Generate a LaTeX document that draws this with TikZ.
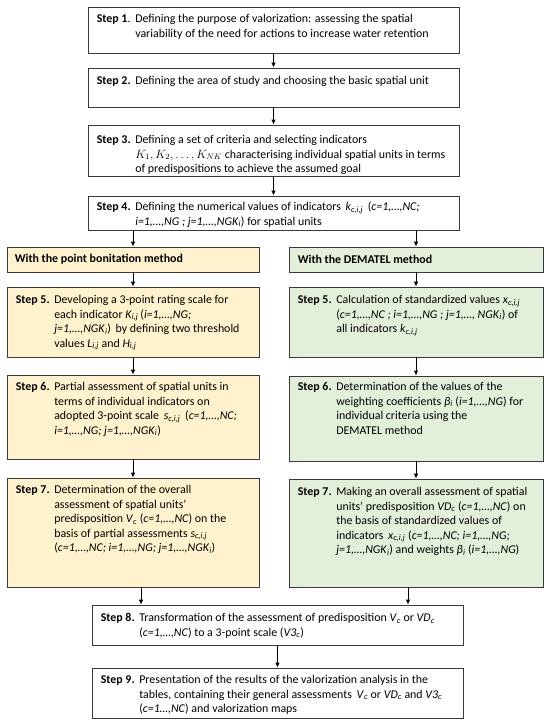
\documentclass[tikz,border=0pt]{standalone}
\usepackage{fontspec}
\setmainfont{Carlito}
\usetikzlibrary{arrows.meta}
\definecolor{yel}{HTML}{FFF2CC}
\definecolor{grn}{HTML}{E2EFD9}
\definecolor{edge}{HTML}{3A3A3A}
\newcommand\iv[2]{\textit{#1}\textsubscript{\textit{#2}}}
\newcommand\stp[2]{\makebox[38.5pt][l]{\textbf{#1}}\begin{tabular}[t]{@{}l@{}}#2\end{tabular}}
\tikzset{
  box/.style={draw=edge, line width=0.8pt, inner sep=0pt, fill=white},
  ybox/.style={box, fill=yel},
  gbox/.style={box, fill=grn},
  txt/.style={inner sep=0pt, font=\fontsize{11.9}{14.5}\selectfont, align=left},
  arr/.style={draw=black, line width=0.8pt, -{Latex[length=5pt,width=4.5pt]}}
}
\begin{document}
\begin{tikzpicture}[x=1pt,y=-1pt]
\useasboundingbox (0,0) rectangle (550,723);
% boxes
\node[box, minimum width=371pt, minimum height=46pt] (s1) at (273.5,30) {};
\node[box, minimum width=371pt, minimum height=39pt] (s2) at (273.5,87.5) {};
\node[box, minimum width=371pt, minimum height=51pt] (s3) at (273.5,150.5) {};
\node[box, minimum width=371pt, minimum height=34pt] (s4) at (273.5,213) {};
\node[ybox, minimum width=252pt, minimum height=25pt] (hl) at (133,259.5) {};
\node[gbox, minimum width=254pt, minimum height=25pt] (hr) at (416,259.5) {};
\node[ybox, minimum width=252pt, minimum height=70pt] (l5) at (133,322) {};
\node[gbox, minimum width=254pt, minimum height=70pt] (r5) at (416,322) {};
\node[ybox, minimum width=252pt, minimum height=84pt] (l6) at (133,417) {};
\node[gbox, minimum width=254pt, minimum height=85pt] (r6) at (416,418.5) {};
\node[ybox, minimum width=252pt, minimum height=109pt] (l7) at (133,532.5) {};
\node[gbox, minimum width=254pt, minimum height=108pt] (r7) at (416,533) {};
\node[box, minimum width=371pt, minimum height=40pt] (s8) at (277.5,625) {};
\node[box, minimum width=371pt, minimum height=50pt] (s9) at (277.5,693) {};
% texts
\node[txt, anchor=base west] (t1) at ([shift={(9,16)}]s1.north west)
  {\stp{Step 1\textmd{.}}{Defining the purpose of valorization: assessing the spatial\\variability of the need for actions to increase water retention}};
\node[txt, anchor=base west] (t2) at ([shift={(9,17)}]s2.north west)
  {\stp{Step 2.}{Defining the area of study and choosing the basic spatial unit}};
\node[txt, anchor=base west] (t3) at ([shift={(9,19)}]s3.north west)
  {\stp{Step 3.}{Defining a set of criteria and selecting indicators\\$K_1, K_2, \ldots, K_{NK}$ characterising individual spatial units in terms\\of predispositions to achieve the assumed goal}};
\node[txt, anchor=base west] (t4) at ([shift={(9,15)}]s4.north west)
  {\stp{Step 4.}{Defining the numerical values of indicators\, \iv{k}{c,i,j}\, (\textit{c=1,…,NC;}\\\textit{i=1,…,NG ; j=1,…,NGK}\textsubscript{\textit{i}}) for spatial units}};
\node[txt, anchor=west, font=\fontsize{11.9}{14.5}\selectfont\bfseries] (th1) at ([xshift=8]hl.west) {With the point bonitation method};
\node[txt, anchor=west, font=\fontsize{11.9}{14.5}\selectfont\bfseries] (th2) at ([xshift=9]hr.west) {With the DEMATEL method};
\node[txt, anchor=base west] (tl5) at ([shift={(9,17)}]l5.north west)
  {\stp{Step 5.}{Developing a 3-point rating scale for\\each indicator \iv{K}{i,j}\,(\textit{i=1,…,NG;}\\\textit{j=1,…,NGK}\textsubscript{\textit{i}})\, by defining two threshold\\values \iv{L}{i,j} and \iv{H}{i,j}}};
\node[txt, anchor=base west] (tl6) at ([shift={(9,16)}]l6.north west)
  {\stp{Step 6.}{Partial assessment of spatial units in\\terms of individual indicators on\\adopted 3-point scale\, \iv{s}{c,i,j}\, (\textit{c=1,…,NC;}\\\textit{i=1,…,NG; j=1,…,NGK}\textsubscript{\textit{i}})}};
\node[txt, anchor=base west] (tl7) at ([shift={(9,16)}]l7.north west)
  {\stp{Step 7.}{Determination of the overall\\assessment of spatial units’\\predisposition \iv{V}{c} (\textit{c=1,…,NC}) on the\\basis of partial assessments \iv{s}{c,i,j}\\(\textit{c=1,…,NC; i=1,…,NG; j=1,…,NGK}\textsubscript{\textit{i}})}};
\node[txt, anchor=base west] (tr5) at ([shift={(9,17)}]r5.north west)
  {\stp{Step 5.}{Calculation of standardized values \iv{x}{c,i,j}\\(\textit{c=1,…,NC ; i=1,…,NG ; j=1,…, NGK}\textsubscript{\textit{i}}) of\\all indicators \iv{k}{c,i,j}}};
\node[txt, anchor=base west] (tr6) at ([shift={(9,15)}]r6.north west)
  {\stp{Step 6.}{Determination of the values of the\\weighting coefficients \iv{β}{i} (\textit{i=1,…,NG}) for\\individual criteria using the\\DEMATEL method}};
\node[txt, anchor=base west] (tr7) at ([shift={(9,17)}]r7.north west)
  {\stp{Step 7.}{Making an overall assessment of spatial\\units’ predisposition \iv{VD}{c} (\textit{c=1,…,NC}) on\\the basis of standardized values of\\indicators\, \iv{x}{c,i,j} (\textit{c=1,…,NC; i=1,…,NG;}\\\textit{j=1,…,NGK}\textsubscript{\textit{i}}) and weights \iv{β}{i} (\textit{i=1,…,NG})}};
\node[txt, anchor=base west] (t8) at ([shift={(9,17)}]s8.north west)
  {\stp{Step 8.}{Transformation of the assessment of predisposition \iv{V}{c} or \iv{VD}{c}\\(\textit{c=1,…,NC}) to a 3-point scale (\iv{V3}{c})}};
\node[txt, anchor=base west] (t9) at ([shift={(9,16)}]s9.north west)
  {\stp{Step 9.}{Presentation of the results of the valorization analysis in the\\tables, containing their general assessments\, \iv{V}{c} or \iv{VD}{c} and \iv{V3}{c}\\(\textit{c=1…,NC}) and valorization maps}};
% arrows
\draw[arr] (s1) -- (s2);
\draw[arr] (s2) -- (s3);
\draw[arr] (s3) -- (s4);
\draw[arr] (hl.north |- s4.south) -- (hl.north);
\draw[arr] (hr.north |- s4.south) -- (hr.north);
\draw[arr] (hl) -- (l5);
\draw[arr] (hr) -- (r5);
\draw[arr] (l5) -- (l6);
\draw[arr] (r5) -- (r6);
\draw[arr] (l6) -- (l7);
\draw[arr] (r6) -- (r7);
\draw[arr] ([xshift=8pt]l7.south) -- ([xshift=8pt]l7.south |- s8.north);
\draw[arr] ([xshift=-8pt]r7.south) -- ([xshift=-8pt]r7.south |- s8.north);
\draw[arr] (s8) -- (s9);
\end{tikzpicture}
\end{document}
